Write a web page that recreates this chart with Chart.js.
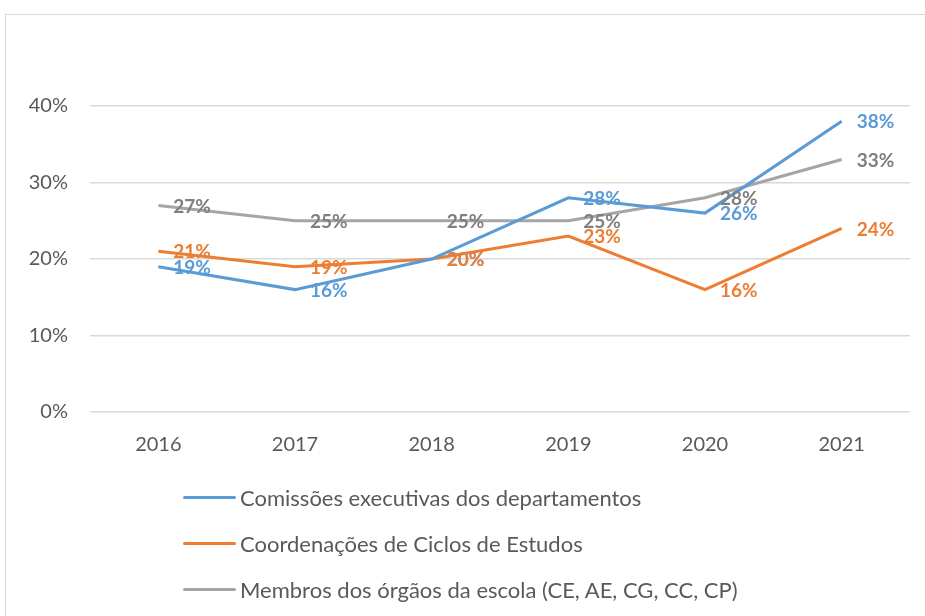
<!DOCTYPE html>
<html>
<head>
<meta charset="utf-8">
<script src="https://cdn.jsdelivr.net/npm/chart.js@4"></script>
<style>
  html, body { margin: 0; padding: 0; background: #fff; }
  #wrap { position: relative; width: 925px; height: 616px; overflow: hidden; }
  #frame { position: absolute; left: 5px; top: 14px; width: 1000px; height: 700px; border: 1px solid #d9d9d9; box-sizing: border-box; }
  canvas { position: absolute; left: 0; top: 0; }
  .legend { position: absolute; left: 183px; font-family: Lato, "Noto Sans", sans-serif; font-size: 22px; color: #595959; }
  .legend div { height: 46px; display: flex; align-items: center; }
  .legend span.line { display: inline-block; width: 53px; height: 3px; border-radius: 2px; margin-right: 4px; }
</style>
</head>
<body>
<div id="wrap">
  <div id="frame"></div>
  <canvas id="chart" width="925" height="616"></canvas>
  <div class="legend" id="legend" style="top:474px"></div>
</div>
<script>
// chart data
const years = ['2016', '2017', '2018', '2019', '2020', '2021'];
const seriesNames = [
    'Comissões executivas dos departamentos',
    'Coordenações de Ciclos de Estudos',
    'Membros dos órgãos da escola (CE, AE, CG, CC, CP)'
];
const comissoes = [19, 16, 20, 28, 26, 38];
const coordenacoes = [21, 19, 20, 23, 16, 24];
const membros = [27, 25, 25, 25, 28, 33];
const yTicks = [0, 10, 20, 30, 40];

const lineColors = ['#5B9BD5', '#ED7D31', '#A5A5A5'];
const labelColors = ['#5B9BD5', '#ED7D31', '#7F7F7F'];
const allSeries = [comissoes, coordenacoes, membros];

// Draw the value labels to the right of each point
const valueLabels = {
    id: 'valueLabels',
    afterDatasetsDraw(chart) {
        const ctx = chart.ctx;
        ctx.save();
        ctx.font = 'bold 19px Lato, "Noto Sans", sans-serif';
        ctx.textBaseline = 'middle';
        ctx.textAlign = 'left';
        chart.data.datasets.forEach((ds, i) => {
            const meta = chart.getDatasetMeta(i);
            ctx.fillStyle = labelColors[i];
            meta.data.forEach((pt, j) => {
                ctx.fillText(ds.data[j] + '%', pt.x + 15, pt.y + 1);
            });
        });
        ctx.restore();
    }
};

const ctx = document.getElementById('chart').getContext('2d');
const myChart = new Chart(ctx, {
    type: 'line',
    data: {
        labels: years,
        datasets: allSeries.map((vals, i) => ({
            label: seriesNames[i],
            data: vals,
            borderColor: lineColors[i],
            borderWidth: 3,
            pointRadius: 0,
            tension: 0,
            fill: false
        }))
    },
    options: {
        responsive: false,
        animation: false,
        layout: { padding: { top: 106, right: 15, left: 0, bottom: 0 } },
        plugins: {
            legend: { display: false },
            tooltip: { enabled: false }
        },
        scales: {
            x: {
                offset: true,
                grid: { display: false, drawTicks: false },
                border: { display: false },
                ticks: {
                    color: '#595959',
                    font: { family: 'Lato, "Noto Sans", sans-serif', size: 20 },
                    padding: 21
                },
                afterFit(scale) { scale.height = 204; }
            },
            y: {
                min: 0,
                max: 40,
                afterBuildTicks(scale) { scale.ticks = yTicks.map(v => ({ value: v })); },
                grid: { color: '#d9d9d9', lineWidth: 1.5, drawTicks: false },
                border: { display: false },
                ticks: {
                    color: '#595959',
                    font: { family: 'Lato, "Noto Sans", sans-serif', size: 20 },
                    padding: 22,
                    callback: v => v + '%'
                },
                afterFit(scale) { scale.width = 90; }
            }
        }
    },
    plugins: [valueLabels]
});

// Legend as text below the chart
const legendEl = document.getElementById('legend');
seriesNames.forEach((name, i) => {
    const row = document.createElement('div');
    const mark = document.createElement('span');
    mark.className = 'line';
    mark.style.background = lineColors[i];
    row.appendChild(mark);
    row.appendChild(document.createTextNode(name));
    legendEl.appendChild(row);
});
</script>
</body>
</html>
